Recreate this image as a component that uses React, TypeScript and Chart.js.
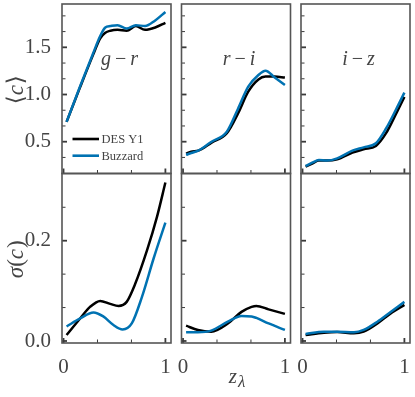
import React, { useEffect, useRef } from 'react';
import { Chart, registerables } from 'chart.js';

Chart.register(...registerables);

// ---------------- data ----------------
const seriesNames = ['DES Y1', 'Buzzard'];
const colourNames = [['g', 'r'], ['r', 'i'], ['i', 'z']];

// <c> : g - r
const grX = [0.03, 0.16, 0.29, 0.36, 0.41, 0.46, 0.53, 0.62, 0.71, 0.8, 0.9, 1.0];
const grDes = [0.71, 1.07, 1.42, 1.595, 1.655, 1.676, 1.685, 1.675, 1.725, 1.685, 1.71, 1.76];
const grBuz = [0.71, 1.08, 1.435, 1.62, 1.71, 1.725, 1.735, 1.7, 1.735, 1.725, 1.785, 1.875];

// <c> : r - i
const riX = [0.03, 0.08, 0.15, 0.28, 0.43, 0.54, 0.64, 0.74, 0.81, 0.9, 1.0];
const riDes = [0.375, 0.395, 0.405, 0.49, 0.59, 0.8, 1.03, 1.16, 1.19, 1.19, 1.18];
const riBuz = [0.36, 0.38, 0.405, 0.5, 0.606, 0.85, 1.083, 1.207, 1.252, 1.18, 1.1];

// <c> : i - z
const izX = [0.03, 0.1, 0.16, 0.24, 0.34, 0.49, 0.6, 0.72, 0.82, 0.92, 1.0];
const izDes = [0.235, 0.27, 0.3, 0.3, 0.313, 0.384, 0.42, 0.455, 0.59, 0.8, 0.975];
const izBuz = [0.243, 0.28, 0.306, 0.3, 0.324, 0.405, 0.44, 0.483, 0.64, 0.846, 1.02];

// sigma(c) : g - r
const sgrDesX = [0.03, 0.163, 0.26, 0.36, 0.458, 0.54, 0.62, 0.7, 0.82, 0.918, 1.0];
const sgrDes = [0.012, 0.045, 0.068, 0.08, 0.074, 0.07, 0.078, 0.112, 0.181, 0.248, 0.316];
const sgrBuzX = [0.03, 0.163, 0.294, 0.39, 0.49, 0.58, 0.67, 0.77, 0.885, 1.0];
const sgrBuz = [0.029, 0.045, 0.057, 0.049, 0.032, 0.023, 0.035, 0.088, 0.165, 0.236];

// sigma(c) : r - i
const sriX = [0.03, 0.146, 0.277, 0.44, 0.574, 0.673, 0.72, 0.84, 1.0];
const sriDes = [0.0305, 0.022, 0.0186, 0.035, 0.058, 0.068, 0.07, 0.063, 0.054];
const sriBuz = [0.0173, 0.0173, 0.0206, 0.0385, 0.05, 0.049, 0.046, 0.035, 0.022];

// sigma(c) : i - z
const sizX = [0.03, 0.21, 0.34, 0.505, 0.6, 0.735, 0.865, 1.0];
const sizDes = [0.012, 0.0166, 0.018, 0.0153, 0.0186, 0.035, 0.055, 0.072];
const sizBuz = [0.014, 0.0186, 0.0186, 0.0173, 0.022, 0.0385, 0.058, 0.078];

// ticks
const xTicks = [0, 1 / 3, 2 / 3, 1];
const xTickLabels = ['0', '', '', '1'];
const meanTicks = [1 / 3, 0.5, 2 / 3, 5 / 6, 1, 7 / 6, 4 / 3, 1.5, 5 / 3, 11 / 6];
const meanTickLabels = ['', '0.5', '', '', '1.0', '', '', '1.5', '', ''];
const sigmaTicks = [0, 1 / 15, 2 / 15, 0.2, 4 / 15];
const sigmaTickLabels = ['0.0', '', '', '0.2', ''];

// ---------------- layout / style ----------------
const W = 415;
const H = 397;
const COL_LEFT = [62, 181.5, 301];
const COL_W = 109;
const ROW_TOP = [4, 173.5];
const ROW_BOTTOM = [173.5, 343];
const X_MIN = -0.015;
const X_MAX = 1.055;
const MEAN_MIN = 0.163;
const MEAN_MAX = 1.959;
const SIG_MIN = -0.004;
const SIG_MAX = 0.334;

const SERIF = '"Liberation Serif", "DejaVu Serif", serif';
const TEXT = '#444444';
const SPINE = '#555555';
const BLUE = '#0072B2';
const BLACK = '#000000';

type Panel = {
  row: number;
  col: number;
  desX: number[];
  des: number[];
  buzX: number[];
  buz: number[];
};

const PANELS: Panel[] = [
  { row: 0, col: 0, desX: grX, des: grDes, buzX: grX, buz: grBuz },
  { row: 0, col: 1, desX: riX, des: riDes, buzX: riX, buz: riBuz },
  { row: 0, col: 2, desX: izX, des: izDes, buzX: izX, buz: izBuz },
  { row: 1, col: 0, desX: sgrDesX, des: sgrDes, buzX: sgrBuzX, buz: sgrBuz },
  { row: 1, col: 1, desX: sriX, des: sriDes, buzX: sriX, buz: sriBuz },
  { row: 1, col: 2, desX: sizX, des: sizDes, buzX: sizX, buz: sizBuz },
];

type Piece = { t: string; italic?: boolean; size: number; dy?: number; gapAfter?: number };

function font(size: number, italic?: boolean) {
  return `${italic ? 'italic ' : ''}${size}px ${SERIF}`;
}

function piecesWidth(ctx: CanvasRenderingContext2D, pieces: Piece[]) {
  let w = 0;
  pieces.forEach((p) => {
    ctx.font = font(p.size, p.italic);
    w += ctx.measureText(p.t).width + (p.gapAfter || 0);
  });
  return w;
}

function drawPieces(ctx: CanvasRenderingContext2D, pieces: Piece[], x: number, y: number) {
  let cx = x;
  ctx.textBaseline = 'alphabetic';
  ctx.textAlign = 'left';
  pieces.forEach((p) => {
    ctx.font = font(p.size, p.italic);
    ctx.fillText(p.t, cx, y + (p.dy || 0));
    cx += ctx.measureText(p.t).width + (p.gapAfter || 0);
  });
}

function zeroPad(s: any) {
  s.paddingTop = 0;
  s.paddingBottom = 0;
  s.paddingLeft = 0;
  s.paddingRight = 0;
}

function makePlugin(p: Panel) {
  return {
    id: `panelDecor${p.row}${p.col}`,
    afterDraw(chart: any) {
      const ctx: CanvasRenderingContext2D = chart.ctx;
      const a = chart.chartArea;
      const xs = chart.scales.x;
      const ys = chart.scales.y;
      const top = p.row === 0;
      const yTicks = top ? meanTicks : sigmaTicks;
      const yLabels = top ? meanTickLabels : sigmaTickLabels;
      ctx.save();
      ctx.strokeStyle = '#3a3a3a';
      ctx.lineCap = 'butt';
      // inward ticks, bottom
      xTicks.forEach((v, i) => {
        const px = xs.getPixelForValue(v);
        const major = xTickLabels[i] !== '';
        ctx.lineWidth = major ? 1.8 : 1;
        const len = major ? 5 : 3.5;
        ctx.beginPath();
        ctx.moveTo(px, a.bottom);
        ctx.lineTo(px, a.bottom - len);
        ctx.stroke();
      });
      // inward ticks, left
      yTicks.forEach((v, i) => {
        const py = ys.getPixelForValue(v);
        const major = yLabels[i] !== '';
        ctx.lineWidth = major ? 1.8 : 1;
        const len = major ? 5 : 3.5;
        ctx.beginPath();
        ctx.moveTo(a.left, py);
        ctx.lineTo(a.left + len, py);
        ctx.stroke();
      });
      // frame
      ctx.lineWidth = 1.6;
      ctx.strokeStyle = SPINE;
      ctx.strokeRect(a.left, a.top, a.right - a.left, a.bottom - a.top);

      ctx.fillStyle = TEXT;
      // colour label in top panels
      if (top) {
        const [c1, c2] = colourNames[p.col];
        const pieces: Piece[] = [
          { t: c1, italic: true, size: 20, gapAfter: 4 },
          { t: '\u2212', size: 20, gapAfter: 4 },
          { t: c2, italic: true, size: 20 },
        ];
        const w = piecesWidth(ctx, pieces);
        drawPieces(ctx, pieces, (a.left + a.right) / 2 + 3 - w / 2, a.top + 61);
      }
      // legend
      if (top && p.col === 0) {
        const rows = [
          { name: seriesNames[0], color: BLACK, y: a.top + 135 },
          { name: seriesNames[1], color: BLUE, y: a.top + 151.7 },
        ];
        rows.forEach((r) => {
          ctx.strokeStyle = r.color;
          ctx.lineWidth = 2.6;
          ctx.beginPath();
          ctx.moveTo(a.left + 10.5, r.y);
          ctx.lineTo(a.left + 37, r.y);
          ctx.stroke();
          ctx.fillStyle = TEXT;
          ctx.font = font(12.5);
          ctx.textAlign = 'left';
          ctx.textBaseline = 'alphabetic';
          ctx.fillText(r.name, a.left + 39.5, r.y + 4.2);
        });
      }
      // y axis titles
      if (p.col === 0) {
        const pieces: Piece[] = top
          ? [
              { t: '\u27E8', size: 23 },
              { t: 'c', italic: true, size: 23, gapAfter: 1 },
              { t: '\u27E9', size: 23 },
            ]
          : [
              { t: '\u03C3', italic: true, size: 23 },
              { t: '(', size: 23 },
              { t: 'c', italic: true, size: 23, gapAfter: 1 },
              { t: ')', size: 23 },
            ];
        const w = piecesWidth(ctx, pieces);
        ctx.save();
        ctx.translate(17, (a.top + a.bottom) / 2 + 1);
        ctx.rotate(-Math.PI / 2);
        ctx.fillStyle = TEXT;
        drawPieces(ctx, pieces, -w / 2, 23 * 0.27);
        ctx.restore();
      }
      // shared x axis title
      if (!top && p.col === 1) {
        const pieces: Piece[] = [
          { t: 'z', italic: true, size: 21, gapAfter: 1 },
          { t: '\u03BB', italic: true, size: 17, dy: 3.5 },
        ];
        const w = piecesWidth(ctx, pieces);
        drawPieces(ctx, pieces, 237 - w / 2, 383);
      }
      ctx.restore();
    },
  };
}

function makeConfig(p: Panel): any {
  const top = p.row === 0;
  const yTicks = top ? meanTicks : sigmaTicks;
  const yLabels = top ? meanTickLabels : sigmaTickLabels;
  const common = {
    borderWidth: 2.5,
    pointRadius: 0,
    pointHoverRadius: 0,
    fill: false,
    cubicInterpolationMode: 'monotone',
  };
  return {
    type: 'line',
    data: {
      datasets: [
        {
          ...common,
          label: seriesNames[1],
          data: p.buzX.map((x, i) => ({ x, y: p.buz[i] })),
          borderColor: BLUE,
          order: 1,
        },
        {
          ...common,
          label: seriesNames[0],
          data: p.desX.map((x, i) => ({ x, y: p.des[i] })),
          borderColor: BLACK,
          order: 2,
        },
      ],
    },
    options: {
      responsive: false,
      animation: false,
      devicePixelRatio: 1,
      events: [],
      layout: {
        padding: {
          left: 0,
          top: ROW_TOP[p.row],
          right: W - COL_LEFT[p.col] - COL_W,
          bottom: 0,
        },
      },
      plugins: {
        legend: { display: false },
        tooltip: { enabled: false },
        title: { display: false },
      },
      scales: {
        x: {
          type: 'linear',
          min: X_MIN,
          max: X_MAX,
          grid: { display: false },
          border: { display: false },
          ticks: {
            display: !top,
            autoSkip: false,
            maxRotation: 0,
            minRotation: 0,
            padding: 4,
            color: TEXT,
            font: { family: SERIF, size: 21 },
            callback: (_v: number, i: number) => xTickLabels[i],
          },
          afterBuildTicks: (s: any) => {
            s.ticks = xTicks.map((v) => ({ value: v }));
          },
          afterFit: (s: any) => {
            s.height = H - ROW_BOTTOM[p.row];
            zeroPad(s);
          },
        },
        y: {
          type: 'linear',
          min: top ? MEAN_MIN : SIG_MIN,
          max: top ? MEAN_MAX : SIG_MAX,
          grid: { display: false },
          border: { display: false },
          ticks: {
            display: p.col === 0,
            autoSkip: false,
            padding: 3,
            color: TEXT,
            font: { family: SERIF, size: 21 },
            callback: (_v: number, i: number) => yLabels[i],
          },
          afterBuildTicks: (s: any) => {
            s.ticks = yTicks.map((v) => ({ value: v }));
          },
          afterFit: (s: any) => {
            s.width = COL_LEFT[p.col];
            zeroPad(s);
          },
        },
      },
    },
    plugins: [makePlugin(p)],
  };
}

export default function App() {
  const refs = useRef<(HTMLCanvasElement | null)[]>([]);
  useEffect(() => {
    const charts = PANELS.map((p, i) => new Chart(refs.current[i] as HTMLCanvasElement, makeConfig(p)));
    return () => charts.forEach((c) => c.destroy());
  }, []);
  return (
    <div style={{ position: 'absolute', left: 0, top: 0, width: W, height: H, background: '#ffffff' }}>
      {PANELS.map((p, i) => (
        <canvas
          key={i}
          ref={(el) => {
            refs.current[i] = el;
          }}
          width={W}
          height={H}
          style={{ position: 'absolute', left: 0, top: 0, width: W, height: H }}
        />
      ))}
    </div>
  );
}
